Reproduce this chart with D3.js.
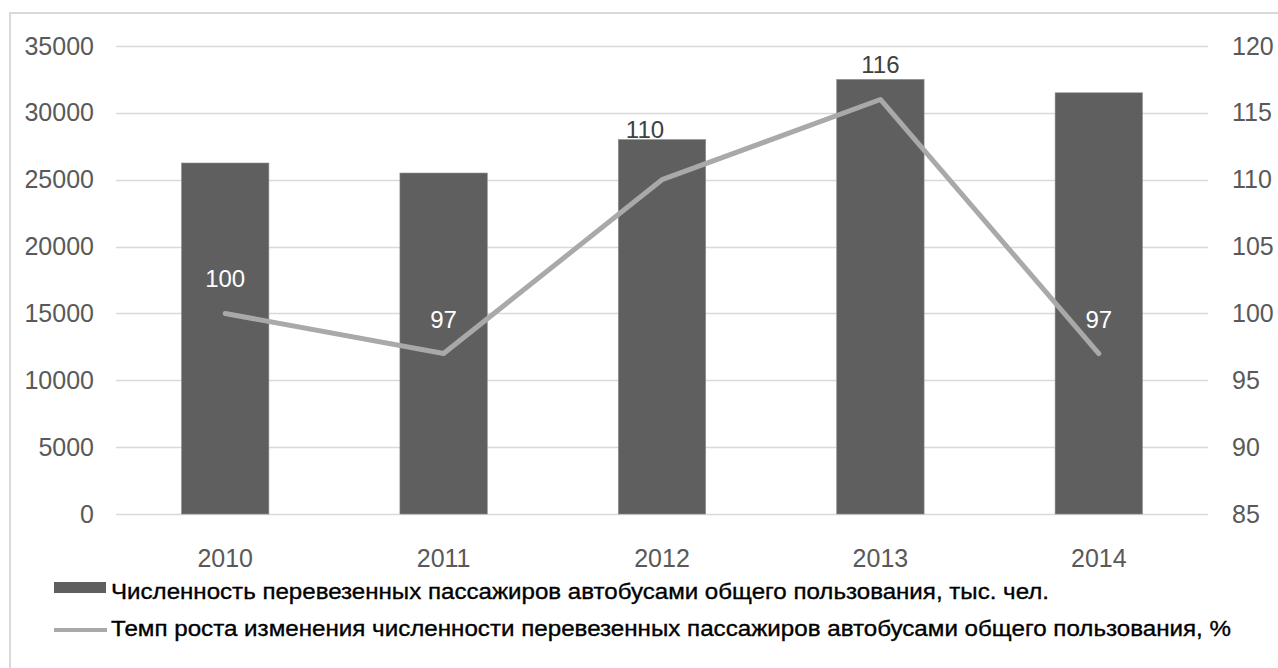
<!DOCTYPE html>
<html>
<head>
<meta charset="utf-8">
<script src="https://cdn.jsdelivr.net/npm/d3@7"></script>
<style>
    body { margin: 0; background: #fff; }
    svg { display: block; font-family: "Liberation Sans", Arial, sans-serif; }
</style>
</head>
<body>
<svg id="chart" width="1278" height="668"></svg>
<script>
const years = ['2010', '2011', '2012', '2013', '2014'];
const passengers = [26250, 25500, 28000, 32500, 31500];
const growthRate = [100, 97, 110, 116, 97];
const leftTicks = [0, 5000, 10000, 15000, 20000, 25000, 30000, 35000];
const rightTicks = [85, 90, 95, 100, 105, 110, 115, 120];
const legendLabels = [
    'Численность перевезенных пассажиров автобусами общего пользования, тыс. чел.',
    'Темп роста изменения численности перевезенных пассажиров автобусами общего пользования, %'
];

const colors = {
    bar: '#5f5f5f',
    line: '#a9a9a9',
    grid: '#d9d9d9',
    tick: '#595959',
    label: '#404040'
};

const svg = d3.select('#chart');

// outer frame, runs past the picture edge on the right and bottom
svg.append('rect')
    .attr('x', 10)
    .attr('y', 13)
    .attr('width', 1300)
    .attr('height', 700)
    .attr('fill', 'none')
    .attr('stroke', colors.grid)
    .attr('stroke-width', 2);

const plotLeft = 116;
const plotRight = 1208;
const plotTop = 46;
const plotBottom = 514;

const xScale = d3.scaleBand()
    .domain(years)
    .range([plotLeft, plotRight])
    .paddingInner(0.6)
    .paddingOuter(0.3);

const yLeft = d3.scaleLinear()
    .domain([0, 35000])
    .range([plotBottom, plotTop]);

const yRight = d3.scaleLinear()
    .domain([85, 120])
    .range([plotBottom, plotTop]);

// gridlines
svg.append('g')
    .selectAll('line')
    .data(leftTicks)
    .enter()
    .append('line')
    .attr('x1', plotLeft)
    .attr('x2', plotRight)
    .attr('y1', (d) => Math.round(yLeft(d)) + 0.5)
    .attr('y2', (d) => Math.round(yLeft(d)) + 0.5)
    .attr('stroke', colors.grid)
    .attr('stroke-width', 1.5);

// Axes
const leftAxis = svg.append('g')
    .attr('transform', `translate(${plotLeft}, 0)`)
    .call(d3.axisLeft(yLeft).tickValues(leftTicks).tickSize(0).tickPadding(22).tickFormat(d3.format('d')));

const rightAxis = svg.append('g')
    .attr('transform', `translate(${plotRight}, 0)`)
    .call(d3.axisRight(yRight).tickValues(rightTicks).tickSize(0).tickPadding(24));

const bottomAxis = svg.append('g')
    .attr('transform', `translate(0, ${plotBottom})`)
    .call(d3.axisBottom(xScale).tickSize(0).tickPadding(35));

[leftAxis, rightAxis, bottomAxis].forEach((axis) => {
    axis.select('.domain').remove();
    axis.selectAll('text')
        .attr('fill', colors.tick)
        .style('font-size', '25px')
        .style('font-family', '"Liberation Sans", Arial, sans-serif');
});

const barData = years.map((year, i) => ({year: year, value: passengers[i], rate: growthRate[i]}));

svg.append('g')
    .selectAll('rect')
    .data(barData)
    .enter()
    .append('rect')
    .attr('x', (d) => xScale(d.year))
    .attr('y', (d) => yLeft(d.value))
    .attr('width', xScale.bandwidth())
    .attr('height', (d) => plotBottom - yLeft(d.value))
    .attr('fill', colors.bar)
    .attr('stroke', '#8a8a8a')
    .attr('stroke-width', 0.6);

const rateLine = d3.line()
    .x((d) => xScale(d.year) + xScale.bandwidth() / 2)
    .y((d) => yRight(d.rate));

svg.append('path')
    .attr('d', rateLine(barData))
    .attr('fill', 'none')
    .attr('stroke', colors.line)
    .attr('stroke-width', 5)
    .attr('stroke-linecap', 'round')
    .attr('stroke-linejoin', 'round');

// data labels: above the point, pushed above the bar when they would sit on its top edge
svg.append('g')
    .selectAll('text')
    .data(barData)
    .enter()
    .append('text')
    .each(function (d) {
        const barTop = yLeft(d.value);
        let y = yRight(d.rate) - 26;
        let onTop = false;
        if (y > barTop - 4 && y < barTop + 26) {
            y = barTop - 2;
            onTop = true;
        }
        const inside = !onTop && y > barTop + 20;
        d3.select(this)
            .attr('x', xScale(d.year) + xScale.bandwidth() / 2 - (onTop ? 17 : 0))
            .attr('y', y)
            .attr('fill', inside ? '#ffffff' : colors.label)
            .text(d.rate);
    })
    .attr('text-anchor', 'middle')
    .style('font-size', '24px');

// legend
const legend = svg.append('g');

legend.append('rect')
    .attr('x', 54)
    .attr('y', 582)
    .attr('width', 52)
    .attr('height', 11)
    .attr('fill', colors.bar);

legend.append('line')
    .attr('x1', 54)
    .attr('x2', 107)
    .attr('y1', 630)
    .attr('y2', 630)
    .attr('stroke', colors.line)
    .attr('stroke-width', 4);

legend.selectAll('text')
    .data(legendLabels)
    .enter()
    .append('text')
    .attr('x', 111)
    .attr('y', (d, i) => i === 0 ? 599 : 636)
    .attr('textLength', (d, i) => i === 0 ? 938 : 1120)
    .attr('lengthAdjust', 'spacingAndGlyphs')
    .attr('fill', '#000000')
    .attr('stroke', '#000000')
    .attr('stroke-width', 0.35)
    .style('font-size', '22px')
    .text((d) => d);
</script>
</body>
</html>
